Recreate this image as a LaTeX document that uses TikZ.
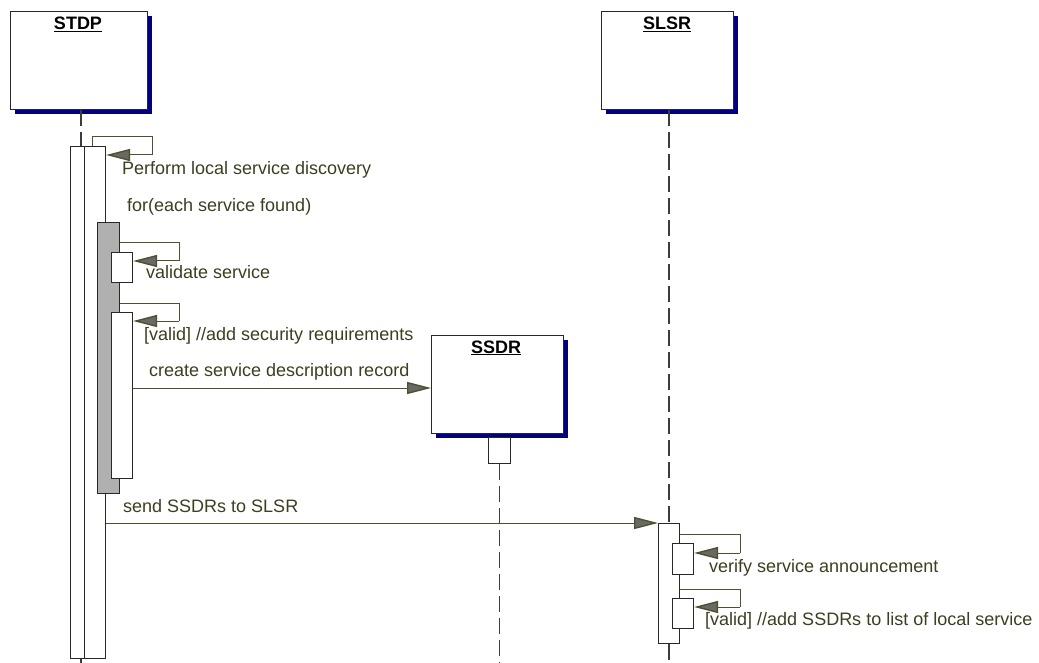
\documentclass[tikz,border=0pt]{standalone}
\usepackage{fontspec}
\setmainfont{Liberation Sans}
\usetikzlibrary{arrows.meta,shadows}
\definecolor{inkline}{RGB}{40,40,40}
\definecolor{lifegray}{RGB}{60,60,60}
\definecolor{msgline}{RGB}{80,80,45}
\definecolor{msgtext}{RGB}{62,62,32}
\definecolor{tipfill}{RGB}{105,105,105}
\definecolor{barshade}{RGB}{176,176,176}
\definecolor{navyshade}{RGB}{0,0,128}
\begin{document}
\begin{tikzpicture}[x=1pt,y=-1pt,
  objbox/.style={draw=inkline, fill=white, line width=1.3pt, inner sep=0pt,
    anchor=north west,
    drop shadow={shadow xshift=4pt, shadow yshift=-4pt, fill=navyshade, opacity=1}},
  objtitle/.style={anchor=base, inner sep=0pt, text=black,
    font=\bfseries\fontsize{18}{21}\selectfont},
  actbar/.style={draw=inkline, fill=white, line width=1.1pt, inner sep=0pt,
    anchor=north west},
  loopbar/.style={actbar, fill=barshade},
  lifeline/.style={draw=lifegray, line width=1.4pt, dash pattern=on 16pt off 6pt},
  msg/.style={draw=msgline, line width=1pt,
    -{Triangle[length=24pt,width=12pt,fill=tipfill,line width=1.4pt]}},
  loopline/.style={draw=msgline, line width=1pt},
  lbl/.style={anchor=base west, inner sep=0pt, text=msgtext,
    font=\fontsize{18}{21}\selectfont},
]
% canvas
\fill[white] (0,0) rectangle (1039,663);
\useasboundingbox (0,0) rectangle (1039,663);

% object heads
\node[objbox, minimum width=137pt, minimum height=98pt] (stdp) at (10,11) {};
\node[objtitle] (stdpT) at (78,30) {\underline{STDP}};
\node[objbox, minimum width=132pt, minimum height=98pt] (slsr) at (601,11) {};
\node[objtitle] (slsrT) at (667,30) {\underline{SLSR}};

% STDP activations
\node[actbar, minimum width=21pt, minimum height=512pt] (stdpA) at (70,146) {};
\node[actbar, minimum width=21pt, minimum height=512pt] (stdpB) at (84,146) {};
\node[loopbar, minimum width=22pt, minimum height=271pt] (forbar) at (97,222) {};
\node[actbar, minimum width=21pt, minimum height=30pt] (valbox) at (111,252) {};
\node[actbar, minimum width=21pt, minimum height=166pt] (secbox) at (111,312) {};

% STDP lifeline
\draw[lifeline] (stdp.south -| stdpA.north) -- (stdpA.north);
\draw[lifeline] (stdpA.south) -- ++(0,8);

% SSDR object created during the loop
\node[objbox, minimum width=132pt, minimum height=98pt] (ssdr) at (431,335) {};
\node[objtitle] (ssdrT) at (496,353) {\underline{SSDR}};
\node[actbar, minimum width=22pt, minimum height=26pt] (ssdrA) at (488,437) {};
\draw[lifeline] (ssdrA.south) -- ++(0,200);

% SLSR lifeline and activations
\node[actbar, minimum width=21pt, minimum height=120pt] (slsrA) at (658,523) {};
\node[actbar, minimum width=21pt, minimum height=31pt] (verbox) at (672,543) {};
\node[actbar, minimum width=21pt, minimum height=30pt] (addbox) at (672,598) {};
\draw[lifeline] (slsr.south -| slsrA.north) -- (slsrA.north);
\draw[lifeline] (slsrA.south) -- ++(0,20);

% self messages
\coordinate (p1) at (92,146);
\draw[loopline] (p1) -- (92,137) -- (152,137) -- (152,155);
\draw[msg] (152,155) -- (stdpB.east |- 0,155);
\node[lbl] (m1) at (122,175) {Perform local service discovery};

\node[lbl] (m2) at (127,212) {for(each service found)};

\draw[loopline] (forbar.east |- 0,243) -- (179,243) -- (179,261);
\draw[msg] (179,261) -- (valbox.east |- 0,261);
\node[lbl] (m3) at (146,279) {validate service};

\draw[loopline] (forbar.east |- 0,303) -- (179,303) -- (179,321);
\draw[msg] (179,321) -- (secbox.east |- 0,321);
\node[lbl] (m4) at (144,340) {[valid] //add security requirements};

% creation message
\draw[msg] (secbox.east |- 0,388) -- (ssdr.west |- 0,388);
\node[lbl] (m5) at (149,376) {create service description record};

% message to SLSR
\draw[msg] (stdpB.east |- 0,523) -- (slsrA.north west);
\node[lbl] (m6) at (123,512) {send SSDRs to SLSR};

\draw[loopline] (slsrA.east |- 0,534) -- (740,534) -- (740,553);
\draw[msg] (740,553) -- (verbox.east |- 0,553);
\node[lbl] (m7) at (709,572) {verify service announcement};

\draw[loopline] (slsrA.east |- 0,589) -- (740,589) -- (740,607);
\draw[msg] (740,607) -- (addbox.east |- 0,607);
\node[lbl] (m8) at (705,625) {[valid] //add SSDRs to list of local service};
\end{tikzpicture}
\end{document}
